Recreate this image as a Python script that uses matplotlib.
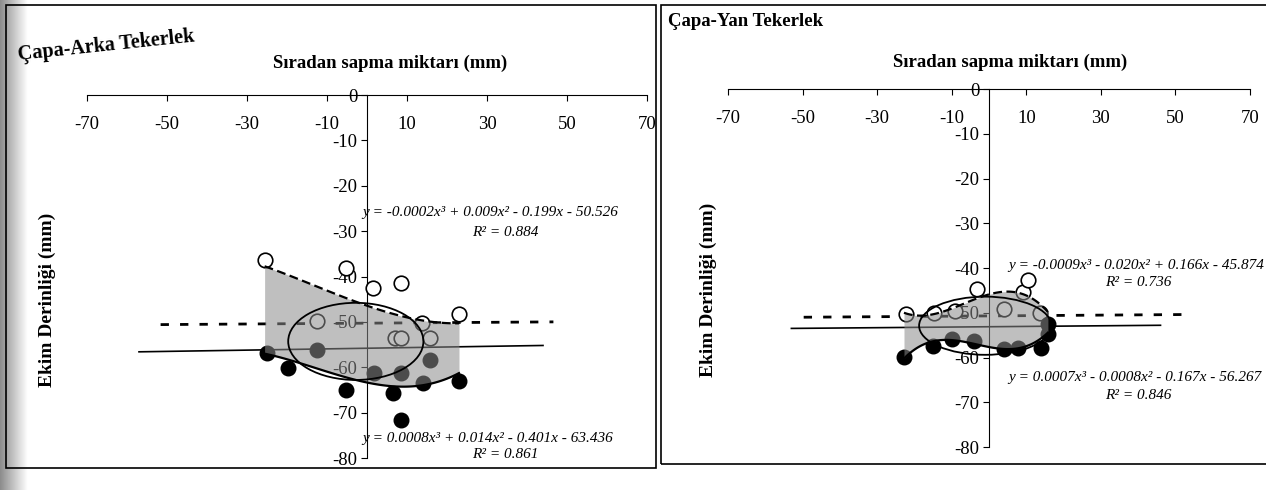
import numpy as np
import matplotlib.pyplot as plt
from matplotlib.patches import Ellipse, Rectangle

plt.rcParams['font.family'] = ['Liberation Serif', 'DejaVu Serif']
plt.rcParams['axes.unicode_minus'] = False

x_ticks = [-70, -50, -30, -10, 10, 30, 50, 70]
y_ticks = [0, -10, -20, -30, -40, -50, -60, -70, -80]

# Capa-Arka Tekerlek (left panel)
arka_open_x = [-25.6, -5.3, 1.4, 8.6, 23.0, -12.5, 13.7, 6.9, 8.6, 15.7]
arka_open_y = [-36.3, -38.1, -42.5, -41.4, -48.2, -49.9, -50.3, -53.5, -53.5, -53.5]
arka_fill_x = [-25.1, -19.7, -12.5, -5.3, 1.8, 6.5, 8.6, 8.6, 14.1, 15.7, 23.0]
arka_fill_y = [-56.9, -60.2, -56.2, -65.0, -61.3, -65.7, -61.3, -71.6, -63.5, -58.4, -63.1]
arka_open_mean_x = [-51.6, 46.6]
arka_open_mean_y = [-50.6, -50.0]
arka_fill_mean_x = [-57.0, 44.0]
arka_fill_mean_y = [-56.6, -55.2]
arka_ellipse = [-2.8, -54.3, 33.8, 17.0]
arka_eq_open = 'y = -0.0002x³ + 0.009x² - 0.199x - 50.526'
arka_r2_open = 'R² = 0.884'
arka_eq_fill = 'y = 0.0008x³ + 0.014x² - 0.401x - 63.436'
arka_r2_fill = 'R² = 0.861'

# Capa-Yan Tekerlek (right panel)
yan_open_x = [-22.3, -14.7, -9.0, -3.2, 4.0, 9.0, 10.5, 13.7]
yan_open_y = [-50.2, -50.1, -49.5, -44.6, -49.1, -45.4, -42.6, -50.0]
yan_fill_x = [-22.8, -15.0, -9.8, -4.0, 4.0, 7.7, 14.0, 15.8, 15.8]
yan_fill_y = [-59.9, -57.4, -55.8, -56.3, -58.1, -57.8, -57.8, -54.7, -52.5]
yan_open_mean_x = [-49.7, 52.0]
yan_open_mean_y = [-51.0, -50.4]
yan_fill_mean_x = [-53.0, 46.0]
yan_fill_mean_y = [-53.5, -52.8]
yan_ellipse = [-1.0, -52.9, 35.5, 13.0]
yan_eq_open = 'y = -0.0009x³ - 0.020x² + 0.166x - 45.874'
yan_r2_open = 'R² = 0.736'
yan_eq_fill = 'y = 0.0007x³ - 0.0008x² - 0.167x - 56.267'
yan_r2_fill = 'R² = 0.846'


def draw_panel(ax, ox, oy, fx, fy, omx, omy, fmx, fmy, ell, eqs, eq_pos):
    ax.set_xlim(-70, 70)
    ax.set_ylim(-80, 0)
    ax.spines['bottom'].set_position(('data', 0))
    ax.spines['left'].set_position(('data', 0))
    ax.spines['top'].set_visible(False)
    ax.spines['right'].set_visible(False)
    ax.set_xticks(x_ticks)
    ax.set_yticks(y_ticks)
    ax.tick_params(direction='out', length=4, width=0.8, labelsize=13.5, pad=3)
    ax.tick_params(axis='x', pad=11)
    ax.patch.set_visible(False)

    # trend lines, 3rd order like excel
    po = np.polyfit(ox, oy, 3)
    pf = np.polyfit(fx, fy, 3)
    xs = np.linspace(min(ox + fx), max(ox + fx), 100)
    yo = np.polyval(po, xs)
    yf = np.polyval(pf, xs)

    ax.plot(omx, omy, color='black', lw=2, ls=(0, (3, 4)), zorder=2)
    ax.plot(fmx, fmy, color='black', lw=1.2, zorder=2)

    ax.scatter(ox, oy, s=110, facecolor='white', edgecolor='black', lw=1.2, zorder=3)
    ax.scatter(fx, fy, s=110, color='black', zorder=3)

    ax.fill_between(xs, yo, yf, color='#8c8c8c', alpha=0.55, lw=0, zorder=4)
    ax.plot(xs, yo, color='black', lw=1.6, ls=(0, (4, 2)), zorder=5)
    ax.plot(xs, yf, color='black', lw=1.6, zorder=5)

    ax.add_patch(Ellipse((ell[0], ell[1]), ell[2], ell[3], fill=False,
                         edgecolor='black', lw=1.3, zorder=5))

    for txt, (tx, ty, ha) in zip(eqs, eq_pos):
        ax.text(tx, ty, txt, ha=ha, va='center', fontsize=11, style='italic',
                zorder=6)


fig = plt.figure(figsize=(12.66, 4.9), dpi=100)

ax1 = fig.add_axes([87 / 1266, 1 - 458 / 490, 560 / 1266, 363 / 490])
draw_panel(ax1, arka_open_x, arka_open_y, arka_fill_x, arka_fill_y,
           arka_open_mean_x, arka_open_mean_y, arka_fill_mean_x, arka_fill_mean_y,
           arka_ellipse,
           [arka_eq_open, arka_r2_open, arka_eq_fill, arka_r2_fill],
           [(-1.2, -25.8, 'left'), (34.5, -30.4, 'center'),
            (-1.2, -75.6, 'left'), (34.5, -79.3, 'center')])

ax2 = fig.add_axes([728 / 1266, 1 - 447 / 490, 522 / 1266, 358 / 490])
draw_panel(ax2, yan_open_x, yan_open_y, yan_fill_x, yan_fill_y,
           yan_open_mean_x, yan_open_mean_y, yan_fill_mean_x, yan_fill_mean_y,
           yan_ellipse,
           [yan_eq_open, yan_r2_open, yan_eq_fill, yan_r2_fill],
           [(5.1, -39.4, 'left'), (40.0, -43.2, 'center'),
            (5.1, -64.4, 'left'), (40.0, -68.5, 'center')])

# panel frames
fig.add_artist(Rectangle((6 / 1266, 1 - 468 / 490), 650 / 1266, 463 / 490,
                         transform=fig.transFigure, fill=False, lw=1.2, color='black'))
fig.add_artist(Rectangle((661 / 1266, 1 - 464 / 490), 620 / 1266, 459 / 490,
                         transform=fig.transFigure, fill=False, lw=1.2, color='black'))

# scan shadow at the binding
shade = fig.add_axes([0, 0, 28 / 1266, 1])
shade.imshow(np.linspace(0.55, 1, 50).reshape(1, -1), cmap='gray', vmin=0, vmax=1,
             aspect='auto')
shade.axis('off')

fig.text(106 / 1266, 1 - 46 / 490, 'Çapa-Arka Tekerlek', ha='center', va='center',
         fontsize=14.5, fontweight='bold', rotation=6)
fig.text(668 / 1266, 1 - 22 / 490, 'Çapa-Yan Tekerlek', ha='left', va='center',
         fontsize=13.5, fontweight='bold')

fig.text(390 / 1266, 1 - 63 / 490, 'Sıradan sapma miktarı (mm)', ha='center',
         va='center', fontsize=13.5, fontweight='bold')
fig.text(1010 / 1266, 1 - 62 / 490, 'Sıradan sapma miktarı (mm)', ha='center',
         va='center', fontsize=13.5, fontweight='bold')

fig.text(47 / 1266, 1 - 300 / 490, 'Ekim Derinliği (mm)', ha='center', va='center',
         fontsize=14, fontweight='bold', rotation=90)
fig.text(708 / 1266, 1 - 290 / 490, 'Ekim Derinliği (mm)', ha='center', va='center',
         fontsize=14, fontweight='bold', rotation=90)

fig.savefig('out.png', dpi=100)
